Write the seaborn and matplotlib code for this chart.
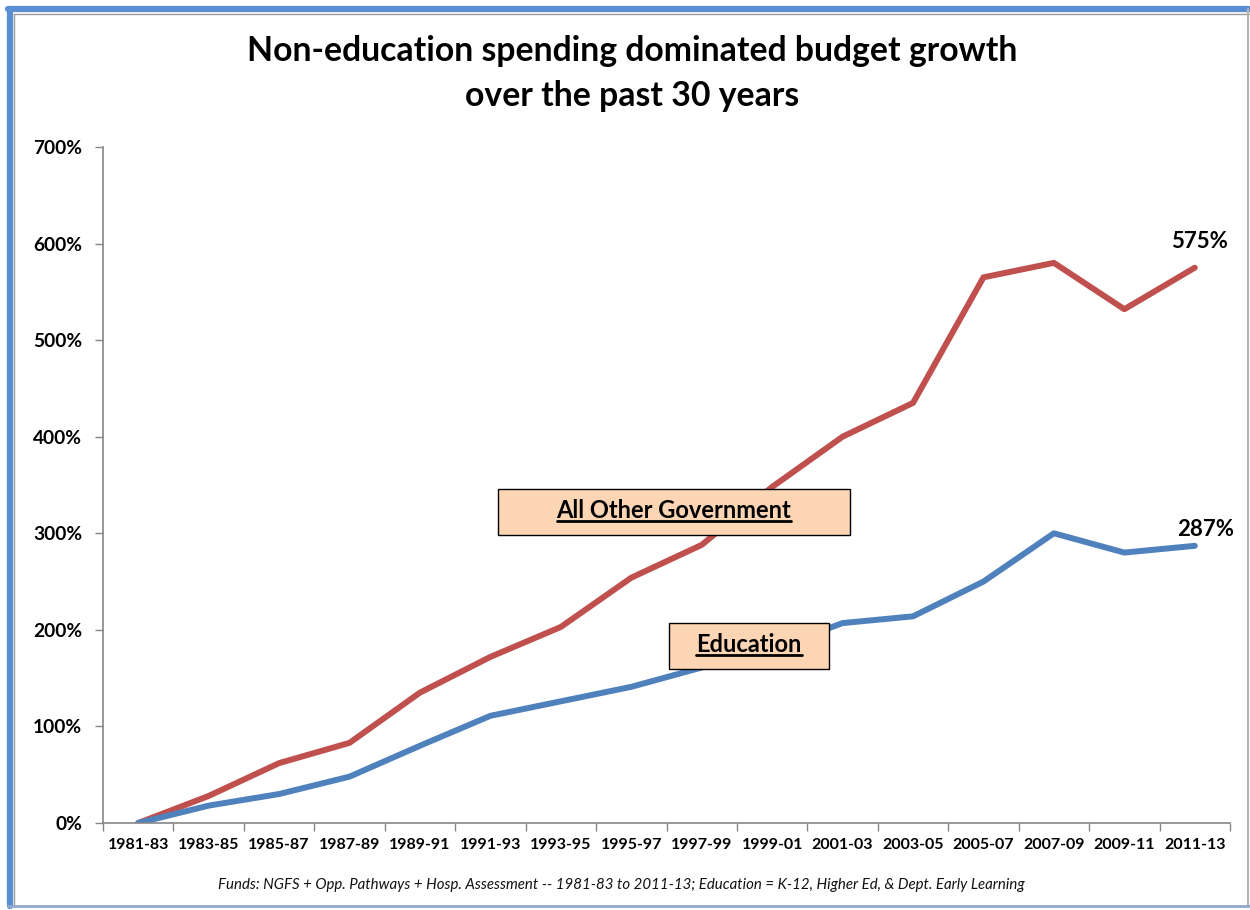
import numpy as np
import pandas as pd
import matplotlib.pyplot as plt
from matplotlib.patches import Rectangle
from matplotlib.lines import Line2D
import seaborn as sns

# data (cumulative growth since 1981-83, %)
biennia = ['1981-83', '1983-85', '1985-87', '1987-89', '1989-91', '1991-93',
           '1993-95', '1995-97', '1997-99', '1999-01', '2001-03', '2003-05',
           '2005-07', '2007-09', '2009-11', '2011-13']
other_gov = [0, 28, 62, 83, 135, 172, 203, 254, 288, 348, 400, 435, 565, 580, 532, 575]
education = [0, 18, 30, 48, 80, 111, 126, 141, 161, 180, 207, 214, 250, 300, 280, 287]

df = pd.DataFrame({
    'pos': list(range(len(biennia))) * 2,
    'growth': other_gov + education,
    'series': ['All Other Government'] * len(biennia) + ['Education'] * len(biennia),
})

sns.set_style('white')
plt.rcParams['font.family'] = ['Lato', 'DejaVu Sans']
plt.rcParams['text.color'] = 'black'
plt.rcParams['xtick.color'] = 'black'
plt.rcParams['ytick.color'] = 'black'

fig = plt.figure(figsize=(12.5, 9.1), dpi=100)
ax = fig.add_axes([0.0824, 0.0956, 0.984 - 0.0824, 0.8385 - 0.0956])

sns.lineplot(data=df, x='pos', y='growth', hue='series', ax=ax,
             palette={'All Other Government': '#C0504D', 'Education': '#4F81BD'},
             linewidth=4.3, legend=False, solid_capstyle='round')

ax.set_xlim(-0.5, len(biennia) - 0.5)
ax.set_ylim(0, 700)
ax.set_xlabel('')
ax.set_ylabel('')

# y axis
ax.set_yticks(range(0, 701, 100))
ax.set_yticklabels([f'{v}%' for v in range(0, 701, 100)], fontsize=13.8, fontweight='bold')
ax.tick_params(axis='y', direction='out', length=6, color='#868686', width=1, pad=9, left=True)

# x axis: labels at centers, ticks at boundaries
ax.set_xticks(range(len(biennia)))
ax.set_xticklabels(biennia, fontsize=11.5, fontweight='bold')
ax.tick_params(axis='x', length=0, pad=11)
ax.set_xticks(np.arange(-0.5, len(biennia), 1), minor=True)
ax.tick_params(axis='x', which='minor', direction='out', length=6, color='#868686', width=1, bottom=True)

for s in ['top', 'right']:
    ax.spines[s].set_visible(False)
for s in ['left', 'bottom']:
    ax.spines[s].set_color('#868686')
    ax.spines[s].set_linewidth(1.2)

# end labels
ax.text(len(biennia) - 0.93, other_gov[-1] + 16, f'{other_gov[-1]}%', ha='center', va='bottom',
        fontsize=16, fontweight='bold')
ax.text(len(biennia) - 0.85, education[-1] + 6, f'{education[-1]}%', ha='center', va='bottom',
        fontsize=16, fontweight='bold')

# series label boxes
boxes = [('All Other Government', 5.11, 298, 4.99, 48),
         ('Education', 7.54, 159.5, 2.26, 47.5)]
labels = []
for name, bx, by, bw, bh in boxes:
    ax.add_patch(Rectangle((bx, by), bw, bh, facecolor='#FCD5B5', edgecolor='black',
                           linewidth=1, zorder=5))
    t = ax.text(bx + bw / 2, by + bh / 2 + 1.5, name, ha='center', va='center',
                fontsize=17, fontweight='bold', zorder=6)
    labels.append(t)

# underline the box labels
fig.canvas.draw()
inv = fig.transFigure.inverted()
for t in labels:
    bb = t.get_window_extent()
    (x0, y0), (x1, y1) = inv.transform([(bb.x0, bb.y0), (bb.x1, bb.y1)])
    fig.add_artist(Line2D([x0, x1], [y0 + 0.0015, y0 + 0.0015], color='black',
                          linewidth=2, zorder=7))

fig.text(0.506, 0.962, 'Non-education spending dominated budget growth\nover the past 30 years',
         ha='center', va='top', fontsize=24.3, fontweight='bold', linespacing=1.5)

fig.text(0.497, 0.027, 'Funds: NGFS + Opp. Pathways + Hosp. Assessment -- 1981-83 to 2011-13; '
         'Education = K-12, Higher Ed, & Dept. Early Learning',
         ha='center', va='center', fontsize=10.8, style='italic', color='#111111')

# frame around the chart
fig.add_artist(Line2D([0.008, 0.008], [0.004, 0.99], color='#5B8FD4', linewidth=4.5))
fig.add_artist(Line2D([0.006, 0.999], [0.99, 0.99], color='#5B8FD4', linewidth=4.5))
fig.add_artist(Line2D([0.011, 0.999], [0.985, 0.985], color='#9A9A9A', linewidth=1))
fig.add_artist(Line2D([0.011, 0.011], [0.004, 0.985], color='#9A9A9A', linewidth=1))
fig.add_artist(Line2D([0.998, 0.998], [0.004, 0.99], color='#B5B5B5', linewidth=1.5))
fig.add_artist(Line2D([0.006, 0.999], [0.004, 0.004], color='#8FA9CF', linewidth=2))

fig.savefig('out.png', dpi=100)
